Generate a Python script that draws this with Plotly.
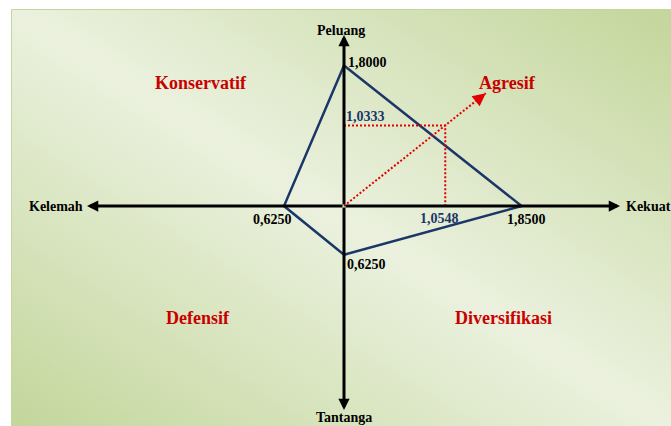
import base64
import plotly.graph_objects as go

# ---------------- data ----------------
kekuatan = 1.85      # strength (positive x)
kelemahan = 0.625    # weakness (negative x)
peluang = 1.80       # opportunity (positive y)
tantangan = 0.625    # threat (negative y)
posisi_x = 1.0548    # position x
posisi_y = 1.0333    # position y
quadrant_names = ["Konservatif", "Agresif", "Defensif", "Diversifikasi"]
axis_titles = ["Peluang", "Tantanga", "Kelemah", "Kekuat"]

def fmt(v):
    return f"{v:.4f}".replace(".", ",")

# ---------------- layout constants ----------------
W, H = 671, 426
OX, OY = 344, 206                 # origin in pixels
SX, SY = 96.0, 78.0               # pixels per unit
x_range = [-OX / SX, (W - OX) / SX]
y_range = [-(H - OY) / SY, OY / SY]

def dx(px):
    return (px - OX) / SX

def dy(py):
    return (OY - py) / SY

def px_paper(px):
    return px / W

def py_paper(py):
    return 1 - py / H

NAVY = "#1b3668"
RED = "#e00000"
DARKRED = "#c80000"
FONT = "Liberation Serif"

fig = go.Figure()

# diamond
dia_x = [kekuatan, 0, -kelemahan, 0, kekuatan]
dia_y = [0, peluang, 0, -tantangan, 0]
fig.add_trace(go.Scatter(x=dia_x, y=dia_y, mode="lines",
                         line=dict(color=NAVY, width=2.5), hoverinfo="skip"))

# red dotted guides
arrow_k = 1.4
fig.add_trace(go.Scatter(x=[0, posisi_x, posisi_x], y=[posisi_y, posisi_y, 0],
                         mode="lines", line=dict(color=RED, width=2, dash="2px,2px"),
                         hoverinfo="skip"))
fig.add_trace(go.Scatter(x=[0, posisi_x * arrow_k], y=[0, posisi_y * arrow_k],
                         mode="lines", line=dict(color=RED, width=2, dash="2px,2px"),
                         hoverinfo="skip"))

ann = []
# axis arrows
for (tx, ty) in [(dx(620), 0), (dx(87), 0), (0, dy(35)), (0, dy(410))]:
    ann.append(dict(x=tx, y=ty, ax=0, ay=0, xref="x", yref="y", axref="x", ayref="y",
                    text="", showarrow=True, arrowhead=2, arrowsize=0.75,
                    arrowwidth=3, arrowcolor="black", standoff=0))
# red arrow head
ann.append(dict(x=posisi_x * arrow_k, y=posisi_y * arrow_k,
                ax=posisi_x * arrow_k * 0.97, ay=posisi_y * arrow_k * 0.97,
                xref="x", yref="y", axref="x", ayref="y", text="", showarrow=True,
                arrowhead=2, arrowsize=1.3, arrowwidth=2, arrowcolor=RED, standoff=0))

bold_black = dict(family=FONT, size=14, color="black")
bold_blue = dict(family=FONT, size=14, color=NAVY)

# axis titles
ann.append(dict(x=0, y=py_paper(30), xref="x", yref="paper", text="<b>%s</b>" % axis_titles[0],
                showarrow=False, font=bold_black, xanchor="center", yanchor="middle", xshift=-3))
ann.append(dict(x=0, y=py_paper(417), xref="x", yref="paper", text="<b>%s</b>" % axis_titles[1],
                showarrow=False, font=bold_black, xanchor="center", yanchor="middle"))
ann.append(dict(x=px_paper(85), y=0, xref="paper", yref="y", text="<b>%s</b>" % axis_titles[2],
                showarrow=False, font=bold_black, xanchor="right", yanchor="middle"))
ann.append(dict(x=px_paper(624), y=0, xref="paper", yref="y", text="<b>%s</b>" % axis_titles[3],
                showarrow=False, font=bold_black, xanchor="left", yanchor="middle"))

# vertex labels
ann.append(dict(x=0, y=peluang, text="<b>%s</b>" % fmt(peluang), showarrow=False,
                font=bold_black, xanchor="left", yanchor="middle", xshift=2, yshift=3))
ann.append(dict(x=-kelemahan, y=0, text="<b>%s</b>" % fmt(kelemahan), showarrow=False,
                font=bold_black, xanchor="center", yanchor="top", xshift=-12, yshift=-4))
ann.append(dict(x=kekuatan, y=0, text="<b>%s</b>" % fmt(kekuatan), showarrow=False,
                font=bold_black, xanchor="center", yanchor="top", xshift=5, yshift=-4))
ann.append(dict(x=0, y=-tantangan, text="<b>%s</b>" % fmt(tantangan), showarrow=False,
                font=bold_black, xanchor="left", yanchor="top", xshift=1, yshift=0))
ann.append(dict(x=0, y=posisi_y, text="<b>%s</b>" % fmt(posisi_y), showarrow=False,
                font=bold_blue, xanchor="left", yanchor="bottom", xshift=0, yshift=-1))
ann.append(dict(x=posisi_x, y=0, text="<b>%s</b>" % fmt(posisi_x), showarrow=False,
                font=bold_blue, xanchor="center", yanchor="top", xshift=-6, yshift=-3))

# quadrant labels
quad_pos = [(201, 83), (507, 83), (198, 318), (503, 318)]
for name, (qx, qy) in zip(quadrant_names, quad_pos):
    ann.append(dict(x=px_paper(qx), y=py_paper(qy), xref="paper", yref="paper",
                    text="<b>%s</b>" % name, showarrow=False,
                    font=dict(family=FONT, size=18, color=DARKRED),
                    xanchor="center", yanchor="middle"))

# gradient background
svg = ('<svg xmlns="http://www.w3.org/2000/svg" width="660" height="417" '
       'viewBox="0 0 660 417" preserveAspectRatio="none"><defs>'
       '<linearGradient id="g" x1="1" y1="0" x2="0" y2="1">'
       '<stop offset="0" stop-color="#c3d69b"/>'
       '<stop offset="0.5" stop-color="#ebf1de"/>'
       '<stop offset="1" stop-color="#c3d69b"/>'
       '</linearGradient></defs><rect width="660" height="417" fill="url(#g)"/></svg>')
src = "data:image/svg+xml;base64," + base64.b64encode(svg.encode()).decode()

bx0, by0 = 11, 9
fig.update_layout(
    width=W, height=H, autosize=False,
    margin=dict(l=0, r=0, t=0, b=0, pad=0),
    paper_bgcolor="white", plot_bgcolor="rgba(0,0,0,0)",
    showlegend=False,
    xaxis=dict(range=x_range, visible=False, fixedrange=True),
    yaxis=dict(range=y_range, visible=False, fixedrange=True),
    annotations=ann,
    images=[dict(source=src, xref="paper", yref="paper",
                 x=bx0 / W, y=1 - by0 / H, sizex=(W - bx0) / W, sizey=(H - by0) / H,
                 xanchor="left", yanchor="top", sizing="stretch", layer="below")],
    shapes=[dict(type="rect", xref="paper", yref="paper",
                 x0=(bx0 + 0.5) / W, y0=-0.01, x1=1.01, y1=1 - (by0 + 0.5) / H,
                 line=dict(color="#c3d69b", width=1), layer="below")],
)

fig.write_html("out.html",
               config={"displayModeBar": False, "staticPlot": True},
               post_script="document.body.style.margin='0';document.body.style.overflow='hidden';")
